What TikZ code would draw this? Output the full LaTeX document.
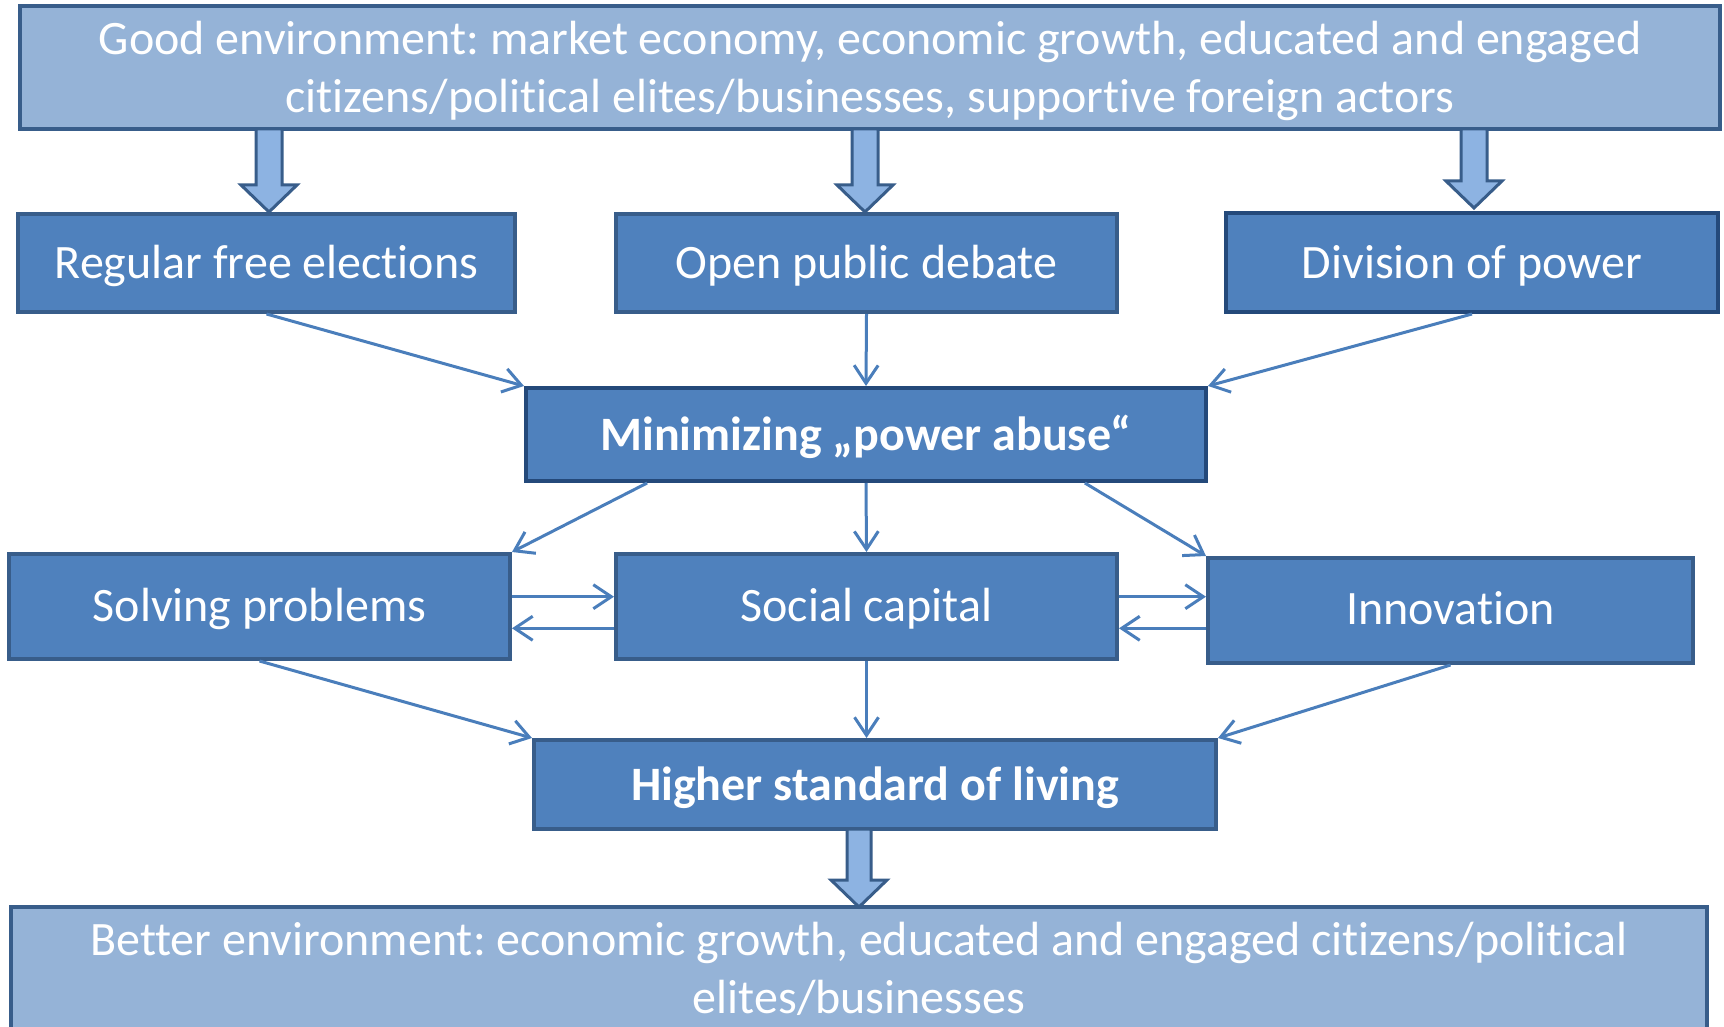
\documentclass[tikz,border=0pt]{standalone}
\usepackage{fontspec}
\setmainfont{Carlito}[RawFeature={-liga;-clig;-calt;-dlig}]
\usetikzlibrary{arrows.meta,calc}
\definecolor{boxfill}{HTML}{4F81BD}
\definecolor{boxedge}{HTML}{385D8A}
\definecolor{boxedgedark}{HTML}{24497A}
\definecolor{envfill}{HTML}{95B3D7}
\definecolor{linkc}{HTML}{4A7EBB}
\definecolor{barfill}{HTML}{8DB3E2}
\frenchspacing
\newcommand\blockarr[4]{% x, ytop, ytip, half shaft
  \draw[barrow] ({#1-#4},#2) -- ({#1+#4},#2) -- ({#1+#4},{#3-27}) -- ({#1+28},{#3-27}) -- (#1,#3)
    -- ({#1-28},{#3-27}) -- ({#1-#4},{#3-27}) -- cycle;}
% text lowered by #1 inside the box, box size unchanged
\newcommand\tx[2][-2.2pt]{\raisebox{#1}[\height][\depth]{\begin{tabular}{@{}c@{}}#2\end{tabular}}}
\begin{document}
\begin{tikzpicture}[x=0.5pt,y=-0.5pt,
  box/.style={draw=boxedge, fill=boxfill, line width=2pt, text=white,
    font=\fontsize{24}{29}\selectfont, inner sep=0pt},
  darkbox/.style={box, draw=boxedgedark},
  env/.style={box, fill=envfill},
  link/.style={draw=linkc, line width=1.5pt,
    -{Straight Barb[length=9pt,width=12pt]}},
  barrow/.style={draw=boxedge, fill=barfill, line width=1.5pt, line join=miter}]
\useasboundingbox (0,0) rectangle (1724,1027);
\clip (0,0) rectangle (1724,1027);

\node[env, minimum width=850pt, minimum height=61.5pt] (top) at (870,67.5)
  {\tx{Good environment: market economy, economic growth, educated and engaged\\citizens/political elites/businesses, supportive foreign actors}};
\node[box, minimum width=248.5pt, minimum height=49pt] (reg) at (266.5,263) {\tx{Regular free elections}};
\node[box, minimum width=250.5pt, minimum height=49pt] (open) at (866.5,263) {\tx{Open public debate}};
\node[darkbox, minimum width=246pt, minimum height=49.5pt] (div) at (1472,262.5) {\tx{Division of power}};
\node[darkbox, minimum width=340pt, minimum height=46.5pt, font=\fontsize{24}{29}\selectfont\bfseries] (min) at (866,434.5) {\tx{Minimizing „power abuse“}};
\node[box, minimum width=250.5pt, minimum height=52.5pt] (solv) at (259.5,606.5) {\tx[-1.6pt]{Solving problems}};
\node[box, minimum width=250.5pt, minimum height=52.5pt] (soc) at (866.5,606.5) {\tx[-1.6pt]{Social capital}};
\node[box, minimum width=242.5pt, minimum height=52.5pt] (inn) at (1450.5,610.5) {\tx[-1.2pt]{Innovation}};
\node[box, minimum width=341pt, minimum height=44.5pt, font=\fontsize{24}{29}\selectfont\bfseries] (high) at (875,784.5) {\tx{Higher standard of living}};
\node[env, minimum width=848pt, minimum height=67pt] (bot) at (859,974)
  {\tx[0.4pt]{Better environment: economic growth, educated and engaged citizens/political\\elites/businesses}};

\blockarr{269}{129}{212}{13}
\blockarr{865}{129}{212}{13}
\blockarr{1474}{129}{208}{13}
\blockarr{859}{829}{907}{12}

\draw[link] (reg.south) -- (min.north west);
\draw[link] (open.south) -- (min.north);
\draw[link] (div.south) -- (min.north east);
\draw[link] ($(min.south west)!0.18!(min.south east)$) -- (solv.north east);
\draw[link] (min.south) -- (soc.north);
\draw[link] ($(min.south west)!0.82!(min.south east)$) -- (inn.north west);
\coordinate (sA) at ($(solv.north east)!0.41!(solv.south east)$);
\coordinate (sB) at ($(solv.north east)!0.70!(solv.south east)$);
\draw[link] (sA) -- (sA -| soc.west);
\draw[link] (sB -| soc.west) -- (sB);
\draw[link] (sA -| soc.east) -- (sA -| inn.west);
\draw[link] (sB -| inn.west) -- (sB -| soc.east);
\draw[link] (solv.south) -- (high.north west);
\draw[link] (soc.south) -- (soc.south |- high.north);
\draw[link] (inn.south) -- (high.north east);
\end{tikzpicture}
\end{document}
